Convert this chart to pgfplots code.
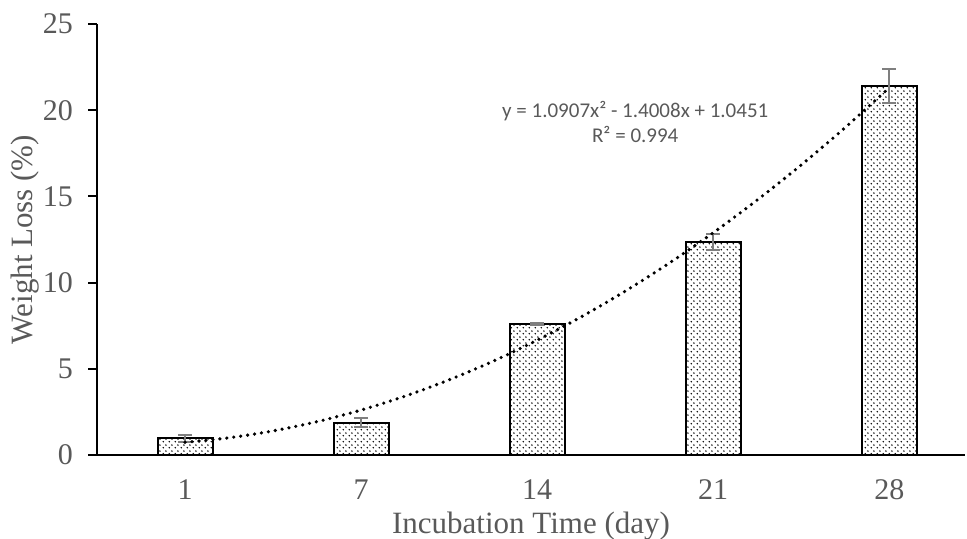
\documentclass[border=0pt]{standalone}
\usepackage{pgfplots}
\pgfplotsset{compat=1.18}
\usepackage{fontspec}
\setmainfont{Liberation Serif}
\newfontfamily\calibri{Carlito}
\usetikzlibrary{patterns}
\definecolor{textgray}{HTML}{595959}
\definecolor{errgray}{HTML}{7F7F7F}
\pgfdeclarepatternformonly{fdots}{\pgfpointorigin}{\pgfpoint{2.8pt}{2.8pt}}{\pgfpoint{2.8pt}{2.8pt}}{%
  \pgfpathcircle{\pgfpoint{0.7pt}{0.7pt}}{0.45pt}%
  \pgfpathcircle{\pgfpoint{2.1pt}{2.1pt}}{0.45pt}%
  \pgfusepath{fill}}
\begin{document}
\begin{tikzpicture}
\useasboundingbox (-48.5pt,-42pt) rectangle (435pt,227.5pt);
\begin{axis}[
  scale only axis, width=434pt, height=215.5pt,
  xmin=0.5, xmax=5.43, ymin=0, ymax=25,
  axis x line=bottom, axis y line=left,
  axis line style={-, line width=1pt, black},
  xtick={1,2,3,4,5}, xticklabels={1,7,14,21,28},
  xtick style={draw=none},
  ytick={0,5,10,15,20,25},
  ytick style={black, line width=1pt},
  tick align=outside, major tick length=4.5pt,
  /pgf/number format/assume math mode=true,
  ticklabel style={font=\fontsize{15}{18}\selectfont, text=textgray},
  xticklabel style={anchor=base, yshift=-17.5pt, inner sep=0pt},
  yticklabel style={xshift=-4pt},
  xlabel={Incubation Time (day)},
  ylabel={Weight Loss (\%)},
  label style={font=\fontsize{15.5}{18}\selectfont, text=textgray, inner sep=0pt},
  xlabel style={at={(axis description cs:0.5,0)}, anchor=base, yshift=-39pt},
  ylabel style={at={(axis description cs:-0.083,0.5)}, anchor=center},
  clip=false,
]
\addplot[ybar, bar width=27.5pt, bar shift=0pt, draw=black, line width=1pt,
  pattern=fdots, pattern color=black,
  error bars/.cd, y dir=both, y explicit,
  error bar style={errgray, line width=1pt},
  error mark options={errgray, line width=1pt, mark size=3.5pt, rotate=90}]
coordinates {
  (1,0.97)  +- (0,0.20)
  (2,1.88)  +- (0,0.26)
  (3,7.60)  +- (0,0.08)
  (4,12.36) +- (0,0.45)
  (5,21.40) +- (0,1.00)
};
\addplot[black, line width=1.8pt, dash pattern=on 0pt off 3.5pt, line cap=round, smooth]
coordinates {
  (1,0.735) (1.25,0.998) (1.5,1.398) (1.75,1.934) (2,2.606) (2.25,3.415)
  (2.5,4.360) (2.75,5.441) (3,6.659) (3.25,8.013) (3.5,9.503) (3.75,11.130)
  (4,12.893) (4.25,14.793) (4.5,16.828) (4.75,19.000) (5,21.309)
};
\node[align=center, text=textgray, font=\calibri\fontsize{10.5}{12.5}\selectfont, inner sep=0pt]
  at (axis cs:3.557,19.3) {y = 1.0907x² - 1.4008x + 1.0451\\R² = 0.994};
\end{axis}
\end{tikzpicture}
\end{document}
